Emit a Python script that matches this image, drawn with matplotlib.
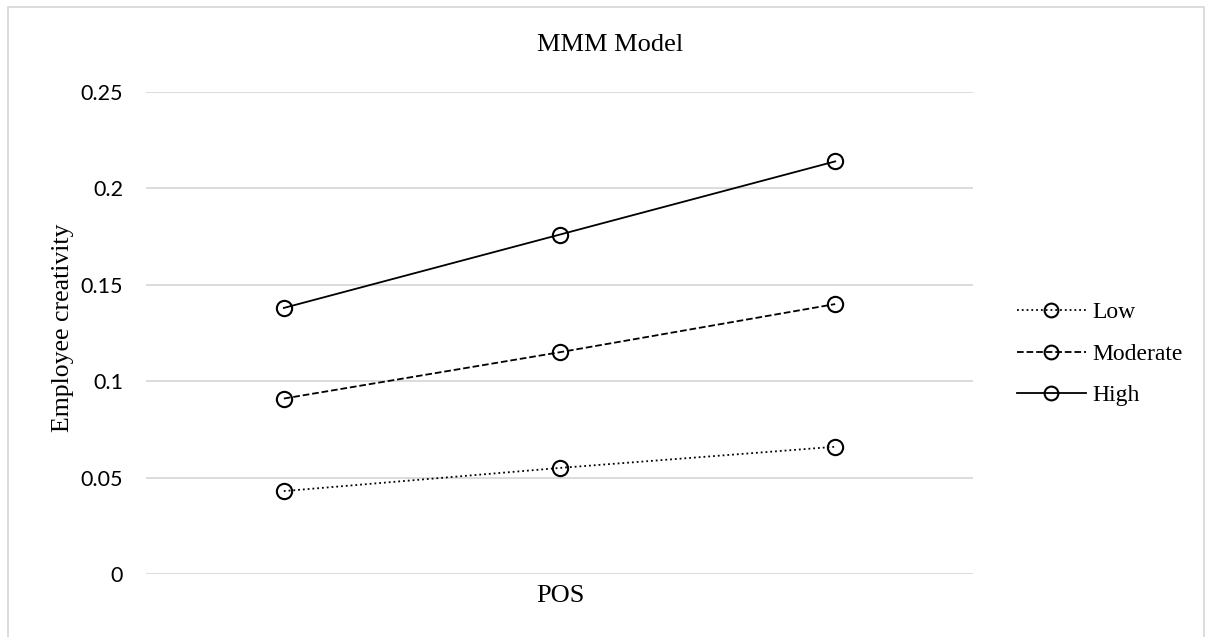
import matplotlib.pyplot as plt
from matplotlib.patches import Rectangle

# simple-slopes values of employee creativity at three POS levels
pos_levels = ["Low POS", "Mean POS", "High POS"]
series_names = ["Low", "Moderate", "High"]
low_vals = [0.043, 0.055, 0.066]
moderate_vals = [0.091, 0.115, 0.140]
high_vals = [0.138, 0.176, 0.214]
y_ticks = [0, 0.05, 0.1, 0.15, 0.2, 0.25]
y_tick_labels = ["0", "0.05", "0.1", "0.15", "0.2", "0.25"]

serif = "Liberation Serif"
sans = "Lato"

fig = plt.figure(figsize=(12.06, 6.37), dpi=100)
ax = fig.add_axes([146 / 1206, 1 - 574 / 637, (973 - 146) / 1206, (574 - 92) / 637])

x = range(len(pos_levels))
styles = [":", "--", "-"]
for name, vals, ls in zip(series_names, [low_vals, moderate_vals, high_vals], styles):
    ax.plot(x, vals, linestyle=ls, color="black", linewidth=1.3,
            marker="o", markersize=11, markerfacecolor="none",
            markeredgecolor="black", markeredgewidth=1.5, label=name)

ax.set_xlim(-0.5, len(pos_levels) - 0.5)
ax.set_ylim(0, 0.25)
ax.set_yticks(y_ticks)
ax.set_yticklabels(y_tick_labels, fontfamily=sans, fontsize=15.5)
ax.set_xticks([])
ax.tick_params(axis="y", length=0, pad=16.5)
ax.grid(axis="y", color="#d9d9d9", linewidth=1.3)
ax.set_axisbelow(True)
for s in ax.spines.values():
    s.set_visible(False)

fig.text(560 / 1206, 1 - 596 / 637, "POS", fontfamily=serif, fontsize=19,
         ha="center", va="center")
fig.text(63 / 1206, 1 - 328 / 637, "Employee creativity", fontfamily=serif,
         fontsize=18.5, rotation=90, ha="center", va="center")
fig.text(610 / 1206, 1 - 45 / 637, "MMM Model", fontfamily=serif, fontsize=19,
         ha="center", va="center")

fig.legend(loc="center left", bbox_to_anchor=(996 / 1206, 1 - 354 / 637),
           frameon=False, prop={"family": serif, "size": 17},
           handlelength=2.9, handletextpad=0.3, labelspacing=0.84,
           markerscale=0.9)

# light outer border of the chart area
fig.patches.append(Rectangle((8 / 1206, -0.02), 1196 / 1206, 1.02 - 7 / 637,
                             transform=fig.transFigure, fill=False,
                             edgecolor="#d9d9d9", linewidth=1.3))

fig.savefig("out.png", dpi=100)
